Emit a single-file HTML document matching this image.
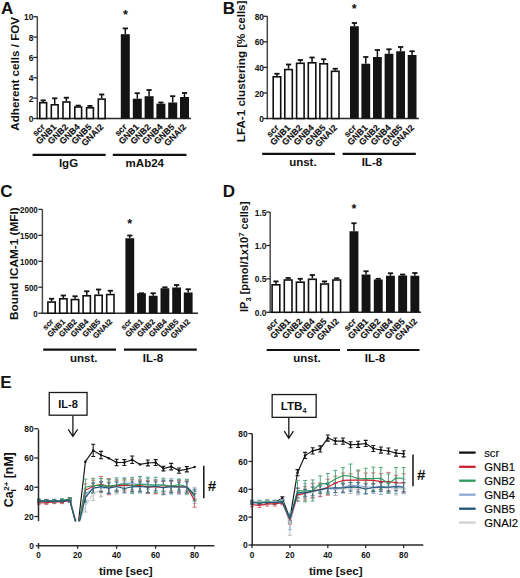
<!DOCTYPE html>
<html><head><meta charset="utf-8"><style>
html,body{margin:0;padding:0;background:#fff;}
body{width:520px;height:578px;overflow:hidden;}
svg{display:block;}
text{font-family:"Liberation Sans",sans-serif;}
.bl{stroke:#111;stroke-width:0.15px;}
</style></head><body>
<svg width="520" height="578" viewBox="0 0 520 578">
<rect width="520" height="578" fill="#fff"/>
<line x1="37.30" y1="16.50" x2="37.30" y2="119.25" stroke="#4a4a4a" stroke-width="1.5" />
<line x1="36.60" y1="118.50" x2="191.00" y2="118.50" stroke="#2a2a2a" stroke-width="1.5" />
<line x1="33.30" y1="118.50" x2="37.30" y2="118.50" stroke="#2a2a2a" stroke-width="1.3" />
<text x="0" y="0" transform="translate(33.40 122.08) scale(1 1.12)" font-size="8.4" text-anchor="end" font-weight="bold" fill="#111" >0</text>
<line x1="33.30" y1="98.14" x2="37.30" y2="98.14" stroke="#2a2a2a" stroke-width="1.3" />
<text x="0" y="0" transform="translate(33.40 101.72) scale(1 1.12)" font-size="8.4" text-anchor="end" font-weight="bold" fill="#111" >2</text>
<line x1="33.30" y1="77.78" x2="37.30" y2="77.78" stroke="#2a2a2a" stroke-width="1.3" />
<text x="0" y="0" transform="translate(33.40 81.36) scale(1 1.12)" font-size="8.4" text-anchor="end" font-weight="bold" fill="#111" >4</text>
<line x1="33.30" y1="57.42" x2="37.30" y2="57.42" stroke="#2a2a2a" stroke-width="1.3" />
<text x="0" y="0" transform="translate(33.40 61.00) scale(1 1.12)" font-size="8.4" text-anchor="end" font-weight="bold" fill="#111" >6</text>
<line x1="33.30" y1="37.06" x2="37.30" y2="37.06" stroke="#2a2a2a" stroke-width="1.3" />
<text x="0" y="0" transform="translate(33.40 40.64) scale(1 1.12)" font-size="8.4" text-anchor="end" font-weight="bold" fill="#111" >8</text>
<line x1="33.30" y1="16.70" x2="37.30" y2="16.70" stroke="#2a2a2a" stroke-width="1.3" />
<text x="0" y="0" transform="translate(33.40 20.28) scale(1 1.12)" font-size="8.4" text-anchor="end" font-weight="bold" fill="#111" >10</text>
<line x1="43.20" y1="101.90" x2="43.20" y2="100.40" stroke="#111" stroke-width="1.5" />
<line x1="40.60" y1="100.40" x2="45.80" y2="100.40" stroke="#111" stroke-width="1.8" />
<rect x="39.80" y="102.70" width="6.80" height="15.80" fill="#fff" stroke="#111" stroke-width="1.6"/>
<line x1="54.70" y1="104.00" x2="54.70" y2="98.30" stroke="#111" stroke-width="1.5" />
<line x1="52.10" y1="98.30" x2="57.30" y2="98.30" stroke="#111" stroke-width="1.8" />
<rect x="51.30" y="104.80" width="6.80" height="13.70" fill="#fff" stroke="#111" stroke-width="1.6"/>
<line x1="66.40" y1="101.20" x2="66.40" y2="97.70" stroke="#111" stroke-width="1.5" />
<line x1="63.80" y1="97.70" x2="69.00" y2="97.70" stroke="#111" stroke-width="1.8" />
<rect x="63.00" y="102.00" width="6.80" height="16.50" fill="#fff" stroke="#111" stroke-width="1.6"/>
<line x1="78.20" y1="106.20" x2="78.20" y2="105.60" stroke="#111" stroke-width="1.5" />
<line x1="75.60" y1="105.60" x2="80.80" y2="105.60" stroke="#111" stroke-width="1.8" />
<rect x="74.80" y="107.00" width="6.80" height="11.50" fill="#fff" stroke="#111" stroke-width="1.6"/>
<line x1="90.00" y1="107.00" x2="90.00" y2="105.90" stroke="#111" stroke-width="1.5" />
<line x1="87.40" y1="105.90" x2="92.60" y2="105.90" stroke="#111" stroke-width="1.8" />
<rect x="86.60" y="107.80" width="6.80" height="10.70" fill="#fff" stroke="#111" stroke-width="1.6"/>
<line x1="101.70" y1="98.30" x2="101.70" y2="94.50" stroke="#111" stroke-width="1.5" />
<line x1="99.10" y1="94.50" x2="104.30" y2="94.50" stroke="#111" stroke-width="1.8" />
<rect x="98.30" y="99.10" width="6.80" height="19.40" fill="#fff" stroke="#111" stroke-width="1.6"/>
<line x1="125.30" y1="34.20" x2="125.30" y2="28.40" stroke="#111" stroke-width="1.5" />
<line x1="122.70" y1="28.40" x2="127.90" y2="28.40" stroke="#111" stroke-width="1.8" />
<rect x="120.80" y="34.20" width="9.00" height="84.30" fill="#141414"/>
<line x1="137.30" y1="98.70" x2="137.30" y2="93.20" stroke="#111" stroke-width="1.5" />
<line x1="134.70" y1="93.20" x2="139.90" y2="93.20" stroke="#111" stroke-width="1.8" />
<rect x="132.80" y="98.70" width="9.00" height="19.80" fill="#141414"/>
<line x1="149.10" y1="96.20" x2="149.10" y2="90.00" stroke="#111" stroke-width="1.5" />
<line x1="146.50" y1="90.00" x2="151.70" y2="90.00" stroke="#111" stroke-width="1.8" />
<rect x="144.60" y="96.20" width="9.00" height="22.30" fill="#141414"/>
<line x1="160.90" y1="103.70" x2="160.90" y2="102.50" stroke="#111" stroke-width="1.5" />
<line x1="158.30" y1="102.50" x2="163.50" y2="102.50" stroke="#111" stroke-width="1.8" />
<rect x="156.40" y="103.70" width="9.00" height="14.80" fill="#141414"/>
<line x1="172.70" y1="102.50" x2="172.70" y2="96.20" stroke="#111" stroke-width="1.5" />
<line x1="170.10" y1="96.20" x2="175.30" y2="96.20" stroke="#111" stroke-width="1.8" />
<rect x="168.20" y="102.50" width="9.00" height="16.00" fill="#141414"/>
<line x1="184.50" y1="97.00" x2="184.50" y2="93.00" stroke="#111" stroke-width="1.5" />
<line x1="181.90" y1="93.00" x2="187.10" y2="93.00" stroke="#111" stroke-width="1.8" />
<rect x="180.00" y="97.00" width="9.00" height="21.50" fill="#141414"/>
<text x="45.40" y="127.50" font-size="8.8" text-anchor="end" font-weight="bold" fill="#111" transform="rotate(-45 45.40 127.50)" class="bl">scr</text>
<text x="56.90" y="127.50" font-size="8.8" text-anchor="end" font-weight="bold" fill="#111" transform="rotate(-45 56.90 127.50)" class="bl">GNB1</text>
<text x="68.60" y="127.50" font-size="8.8" text-anchor="end" font-weight="bold" fill="#111" transform="rotate(-45 68.60 127.50)" class="bl">GNB2</text>
<text x="80.40" y="127.50" font-size="8.8" text-anchor="end" font-weight="bold" fill="#111" transform="rotate(-45 80.40 127.50)" class="bl">GNB4</text>
<text x="92.20" y="127.50" font-size="8.8" text-anchor="end" font-weight="bold" fill="#111" transform="rotate(-45 92.20 127.50)" class="bl">GNB5</text>
<text x="103.90" y="127.50" font-size="8.8" text-anchor="end" font-weight="bold" fill="#111" transform="rotate(-45 103.90 127.50)" class="bl">GNAI2</text>
<text x="127.50" y="127.50" font-size="8.8" text-anchor="end" font-weight="bold" fill="#111" transform="rotate(-45 127.50 127.50)" class="bl">scr</text>
<text x="139.50" y="127.50" font-size="8.8" text-anchor="end" font-weight="bold" fill="#111" transform="rotate(-45 139.50 127.50)" class="bl">GNB1</text>
<text x="151.30" y="127.50" font-size="8.8" text-anchor="end" font-weight="bold" fill="#111" transform="rotate(-45 151.30 127.50)" class="bl">GNB2</text>
<text x="163.10" y="127.50" font-size="8.8" text-anchor="end" font-weight="bold" fill="#111" transform="rotate(-45 163.10 127.50)" class="bl">GNB4</text>
<text x="174.90" y="127.50" font-size="8.8" text-anchor="end" font-weight="bold" fill="#111" transform="rotate(-45 174.90 127.50)" class="bl">GNB5</text>
<text x="186.70" y="127.50" font-size="8.8" text-anchor="end" font-weight="bold" fill="#111" transform="rotate(-45 186.70 127.50)" class="bl">GNAI2</text>
<text x="125.40" y="19.00" font-size="12.6" text-anchor="middle" font-weight="bold" fill="#111" >*</text>
<line x1="32.60" y1="154.80" x2="105.70" y2="154.80" stroke="#111" stroke-width="2.2" />
<line x1="112.80" y1="154.80" x2="186.50" y2="154.80" stroke="#111" stroke-width="2.2" />
<text x="68.50" y="167.30" font-size="11.5" text-anchor="middle" font-weight="bold" fill="#111" >IgG</text>
<text x="144.80" y="167.30" font-size="11.5" text-anchor="middle" font-weight="bold" fill="#111" >mAb24</text>
<text x="1.00" y="13.90" font-size="17" text-anchor="start" font-weight="bold" fill="#111" >A</text>
<text x="18.90" y="73.80" font-size="11.65" text-anchor="middle" font-weight="bold" fill="#111" transform="rotate(-90 18.90 73.80)" >Adherent cells / FOV</text>
<line x1="267.30" y1="16.30" x2="267.30" y2="119.25" stroke="#4a4a4a" stroke-width="1.5" />
<line x1="266.60" y1="118.50" x2="419.00" y2="118.50" stroke="#2a2a2a" stroke-width="1.5" />
<line x1="263.30" y1="118.50" x2="267.30" y2="118.50" stroke="#2a2a2a" stroke-width="1.3" />
<text x="0" y="0" transform="translate(264.00 122.08) scale(1 1.12)" font-size="8.4" text-anchor="end" font-weight="bold" fill="#111" >0</text>
<line x1="263.30" y1="92.95" x2="267.30" y2="92.95" stroke="#2a2a2a" stroke-width="1.3" />
<text x="0" y="0" transform="translate(264.00 96.53) scale(1 1.12)" font-size="8.4" text-anchor="end" font-weight="bold" fill="#111" >20</text>
<line x1="263.30" y1="67.40" x2="267.30" y2="67.40" stroke="#2a2a2a" stroke-width="1.3" />
<text x="0" y="0" transform="translate(264.00 70.98) scale(1 1.12)" font-size="8.4" text-anchor="end" font-weight="bold" fill="#111" >40</text>
<line x1="263.30" y1="41.85" x2="267.30" y2="41.85" stroke="#2a2a2a" stroke-width="1.3" />
<text x="0" y="0" transform="translate(264.00 45.43) scale(1 1.12)" font-size="8.4" text-anchor="end" font-weight="bold" fill="#111" >60</text>
<line x1="263.30" y1="16.30" x2="267.30" y2="16.30" stroke="#2a2a2a" stroke-width="1.3" />
<text x="0" y="0" transform="translate(264.00 19.88) scale(1 1.12)" font-size="8.4" text-anchor="end" font-weight="bold" fill="#111" >80</text>
<line x1="276.95" y1="76.00" x2="276.95" y2="73.75" stroke="#111" stroke-width="1.5" />
<line x1="274.35" y1="73.75" x2="279.55" y2="73.75" stroke="#111" stroke-width="1.8" />
<rect x="273.20" y="76.80" width="7.50" height="41.70" fill="#fff" stroke="#111" stroke-width="1.6"/>
<line x1="288.55" y1="68.75" x2="288.55" y2="64.50" stroke="#111" stroke-width="1.5" />
<line x1="285.95" y1="64.50" x2="291.15" y2="64.50" stroke="#111" stroke-width="1.8" />
<rect x="284.80" y="69.55" width="7.50" height="48.95" fill="#fff" stroke="#111" stroke-width="1.6"/>
<line x1="300.35" y1="62.50" x2="300.35" y2="60.00" stroke="#111" stroke-width="1.5" />
<line x1="297.75" y1="60.00" x2="302.95" y2="60.00" stroke="#111" stroke-width="1.8" />
<rect x="296.60" y="63.30" width="7.50" height="55.20" fill="#fff" stroke="#111" stroke-width="1.6"/>
<line x1="312.05" y1="62.00" x2="312.05" y2="57.50" stroke="#111" stroke-width="1.5" />
<line x1="309.45" y1="57.50" x2="314.65" y2="57.50" stroke="#111" stroke-width="1.8" />
<rect x="308.30" y="62.80" width="7.50" height="55.70" fill="#fff" stroke="#111" stroke-width="1.6"/>
<line x1="323.65" y1="63.00" x2="323.65" y2="59.25" stroke="#111" stroke-width="1.5" />
<line x1="321.05" y1="59.25" x2="326.25" y2="59.25" stroke="#111" stroke-width="1.8" />
<rect x="319.90" y="63.80" width="7.50" height="54.70" fill="#fff" stroke="#111" stroke-width="1.6"/>
<line x1="335.25" y1="70.50" x2="335.25" y2="68.75" stroke="#111" stroke-width="1.5" />
<line x1="332.65" y1="68.75" x2="337.85" y2="68.75" stroke="#111" stroke-width="1.8" />
<rect x="331.50" y="71.30" width="7.50" height="47.20" fill="#fff" stroke="#111" stroke-width="1.6"/>
<line x1="354.40" y1="26.25" x2="354.40" y2="23.00" stroke="#111" stroke-width="1.5" />
<line x1="351.80" y1="23.00" x2="357.00" y2="23.00" stroke="#111" stroke-width="1.8" />
<rect x="350.00" y="26.25" width="8.80" height="92.25" fill="#141414"/>
<line x1="365.80" y1="63.75" x2="365.80" y2="57.00" stroke="#111" stroke-width="1.5" />
<line x1="363.20" y1="57.00" x2="368.40" y2="57.00" stroke="#111" stroke-width="1.8" />
<rect x="361.40" y="63.75" width="8.80" height="54.75" fill="#141414"/>
<line x1="377.40" y1="57.00" x2="377.40" y2="50.00" stroke="#111" stroke-width="1.5" />
<line x1="374.80" y1="50.00" x2="380.00" y2="50.00" stroke="#111" stroke-width="1.8" />
<rect x="373.00" y="57.00" width="8.80" height="61.50" fill="#141414"/>
<line x1="389.00" y1="53.75" x2="389.00" y2="49.25" stroke="#111" stroke-width="1.5" />
<line x1="386.40" y1="49.25" x2="391.60" y2="49.25" stroke="#111" stroke-width="1.8" />
<rect x="384.60" y="53.75" width="8.80" height="64.75" fill="#141414"/>
<line x1="400.60" y1="51.25" x2="400.60" y2="47.00" stroke="#111" stroke-width="1.5" />
<line x1="398.00" y1="47.00" x2="403.20" y2="47.00" stroke="#111" stroke-width="1.8" />
<rect x="396.20" y="51.25" width="8.80" height="67.25" fill="#141414"/>
<line x1="412.10" y1="55.00" x2="412.10" y2="51.25" stroke="#111" stroke-width="1.5" />
<line x1="409.50" y1="51.25" x2="414.70" y2="51.25" stroke="#111" stroke-width="1.8" />
<rect x="407.70" y="55.00" width="8.80" height="63.50" fill="#141414"/>
<text x="279.45" y="128.40" font-size="8.8" text-anchor="end" font-weight="bold" fill="#111" transform="rotate(-45 279.45 128.40)" class="bl">scr</text>
<text x="291.05" y="128.40" font-size="8.8" text-anchor="end" font-weight="bold" fill="#111" transform="rotate(-45 291.05 128.40)" class="bl">GNB1</text>
<text x="302.85" y="128.40" font-size="8.8" text-anchor="end" font-weight="bold" fill="#111" transform="rotate(-45 302.85 128.40)" class="bl">GNB2</text>
<text x="314.55" y="128.40" font-size="8.8" text-anchor="end" font-weight="bold" fill="#111" transform="rotate(-45 314.55 128.40)" class="bl">GNB4</text>
<text x="326.15" y="128.40" font-size="8.8" text-anchor="end" font-weight="bold" fill="#111" transform="rotate(-45 326.15 128.40)" class="bl">GNB5</text>
<text x="337.75" y="128.40" font-size="8.8" text-anchor="end" font-weight="bold" fill="#111" transform="rotate(-45 337.75 128.40)" class="bl">GNAI2</text>
<text x="356.90" y="128.40" font-size="8.8" text-anchor="end" font-weight="bold" fill="#111" transform="rotate(-45 356.90 128.40)" class="bl">scr</text>
<text x="368.30" y="128.40" font-size="8.8" text-anchor="end" font-weight="bold" fill="#111" transform="rotate(-45 368.30 128.40)" class="bl">GNB1</text>
<text x="379.90" y="128.40" font-size="8.8" text-anchor="end" font-weight="bold" fill="#111" transform="rotate(-45 379.90 128.40)" class="bl">GNB2</text>
<text x="391.50" y="128.40" font-size="8.8" text-anchor="end" font-weight="bold" fill="#111" transform="rotate(-45 391.50 128.40)" class="bl">GNB4</text>
<text x="403.10" y="128.40" font-size="8.8" text-anchor="end" font-weight="bold" fill="#111" transform="rotate(-45 403.10 128.40)" class="bl">GNB5</text>
<text x="414.60" y="128.40" font-size="8.8" text-anchor="end" font-weight="bold" fill="#111" transform="rotate(-45 414.60 128.40)" class="bl">GNAI2</text>
<text x="354.20" y="13.10" font-size="12.6" text-anchor="middle" font-weight="bold" fill="#111" >*</text>
<line x1="262.20" y1="153.80" x2="335.00" y2="153.80" stroke="#111" stroke-width="2.2" />
<line x1="342.60" y1="153.80" x2="415.80" y2="153.80" stroke="#111" stroke-width="2.2" />
<text x="302.90" y="165.50" font-size="11.5" text-anchor="middle" font-weight="bold" fill="#111" >unst.</text>
<text x="371.90" y="165.50" font-size="11.5" text-anchor="middle" font-weight="bold" fill="#111" >IL-8</text>
<text x="222.80" y="13.85" font-size="17" text-anchor="start" font-weight="bold" fill="#111" >B</text>
<text x="244.90" y="71.35" font-size="11.65" text-anchor="middle" font-weight="bold" fill="#111" transform="rotate(-90 244.90 71.35)" >LFA-1 clustering [% cells]</text>
<line x1="42.40" y1="209.50" x2="42.40" y2="313.95" stroke="#4a4a4a" stroke-width="1.5" />
<line x1="41.70" y1="313.20" x2="198.00" y2="313.20" stroke="#2a2a2a" stroke-width="1.5" />
<line x1="38.40" y1="313.20" x2="42.40" y2="313.20" stroke="#2a2a2a" stroke-width="1.3" />
<text x="0" y="0" transform="translate(37.80 316.78) scale(1 1.12)" font-size="8.0" text-anchor="end" font-weight="bold" fill="#111" >0</text>
<line x1="38.40" y1="287.25" x2="42.40" y2="287.25" stroke="#2a2a2a" stroke-width="1.3" />
<text x="0" y="0" transform="translate(37.80 290.83) scale(1 1.12)" font-size="8.0" text-anchor="end" font-weight="bold" fill="#111" >500</text>
<line x1="38.40" y1="261.30" x2="42.40" y2="261.30" stroke="#2a2a2a" stroke-width="1.3" />
<text x="0" y="0" transform="translate(37.80 264.88) scale(1 1.12)" font-size="8.0" text-anchor="end" font-weight="bold" fill="#111" >1000</text>
<line x1="38.40" y1="235.35" x2="42.40" y2="235.35" stroke="#2a2a2a" stroke-width="1.3" />
<text x="0" y="0" transform="translate(37.80 238.93) scale(1 1.12)" font-size="8.0" text-anchor="end" font-weight="bold" fill="#111" >1500</text>
<line x1="38.40" y1="209.40" x2="42.40" y2="209.40" stroke="#2a2a2a" stroke-width="1.3" />
<text x="0" y="0" transform="translate(37.80 212.98) scale(1 1.12)" font-size="8.0" text-anchor="end" font-weight="bold" fill="#111" >2000</text>
<line x1="51.55" y1="301.25" x2="51.55" y2="298.75" stroke="#111" stroke-width="1.5" />
<line x1="48.95" y1="298.75" x2="54.15" y2="298.75" stroke="#111" stroke-width="1.8" />
<rect x="47.90" y="302.05" width="7.30" height="11.15" fill="#fff" stroke="#111" stroke-width="1.6"/>
<line x1="63.35" y1="298.00" x2="63.35" y2="295.50" stroke="#111" stroke-width="1.5" />
<line x1="60.75" y1="295.50" x2="65.95" y2="295.50" stroke="#111" stroke-width="1.8" />
<rect x="59.70" y="298.80" width="7.30" height="14.40" fill="#fff" stroke="#111" stroke-width="1.6"/>
<line x1="75.05" y1="298.75" x2="75.05" y2="296.25" stroke="#111" stroke-width="1.5" />
<line x1="72.45" y1="296.25" x2="77.65" y2="296.25" stroke="#111" stroke-width="1.8" />
<rect x="71.40" y="299.55" width="7.30" height="13.65" fill="#fff" stroke="#111" stroke-width="1.6"/>
<line x1="86.75" y1="295.00" x2="86.75" y2="291.25" stroke="#111" stroke-width="1.5" />
<line x1="84.15" y1="291.25" x2="89.35" y2="291.25" stroke="#111" stroke-width="1.8" />
<rect x="83.10" y="295.80" width="7.30" height="17.40" fill="#fff" stroke="#111" stroke-width="1.6"/>
<line x1="98.55" y1="294.50" x2="98.55" y2="289.50" stroke="#111" stroke-width="1.5" />
<line x1="95.95" y1="289.50" x2="101.15" y2="289.50" stroke="#111" stroke-width="1.8" />
<rect x="94.90" y="295.30" width="7.30" height="17.90" fill="#fff" stroke="#111" stroke-width="1.6"/>
<line x1="110.35" y1="293.75" x2="110.35" y2="290.75" stroke="#111" stroke-width="1.5" />
<line x1="107.75" y1="290.75" x2="112.95" y2="290.75" stroke="#111" stroke-width="1.8" />
<rect x="106.70" y="294.55" width="7.30" height="18.65" fill="#fff" stroke="#111" stroke-width="1.6"/>
<line x1="129.80" y1="238.25" x2="129.80" y2="235.50" stroke="#111" stroke-width="1.5" />
<line x1="127.20" y1="235.50" x2="132.40" y2="235.50" stroke="#111" stroke-width="1.8" />
<rect x="125.40" y="238.25" width="8.80" height="74.95" fill="#141414"/>
<line x1="141.50" y1="293.25" x2="141.50" y2="293.25" stroke="#111" stroke-width="1.5" />
<line x1="138.90" y1="293.25" x2="144.10" y2="293.25" stroke="#111" stroke-width="1.8" />
<rect x="137.10" y="293.25" width="8.80" height="19.95" fill="#141414"/>
<line x1="153.20" y1="295.75" x2="153.20" y2="293.25" stroke="#111" stroke-width="1.5" />
<line x1="150.60" y1="293.25" x2="155.80" y2="293.25" stroke="#111" stroke-width="1.8" />
<rect x="148.80" y="295.75" width="8.80" height="17.45" fill="#141414"/>
<line x1="164.90" y1="288.25" x2="164.90" y2="287.30" stroke="#111" stroke-width="1.5" />
<line x1="162.30" y1="287.30" x2="167.50" y2="287.30" stroke="#111" stroke-width="1.8" />
<rect x="160.50" y="288.25" width="8.80" height="24.95" fill="#141414"/>
<line x1="176.60" y1="287.50" x2="176.60" y2="285.00" stroke="#111" stroke-width="1.5" />
<line x1="174.00" y1="285.00" x2="179.20" y2="285.00" stroke="#111" stroke-width="1.8" />
<rect x="172.20" y="287.50" width="8.80" height="25.70" fill="#141414"/>
<line x1="188.20" y1="292.50" x2="188.20" y2="289.25" stroke="#111" stroke-width="1.5" />
<line x1="185.60" y1="289.25" x2="190.80" y2="289.25" stroke="#111" stroke-width="1.8" />
<rect x="183.80" y="292.50" width="8.80" height="20.70" fill="#141414"/>
<text x="53.95" y="322.10" font-size="7.8" text-anchor="end" font-weight="bold" fill="#111" transform="rotate(-45 53.95 322.10)" class="bl">scr</text>
<text x="65.75" y="322.10" font-size="7.8" text-anchor="end" font-weight="bold" fill="#111" transform="rotate(-45 65.75 322.10)" class="bl">GNB1</text>
<text x="77.45" y="322.10" font-size="7.8" text-anchor="end" font-weight="bold" fill="#111" transform="rotate(-45 77.45 322.10)" class="bl">GNB2</text>
<text x="89.15" y="322.10" font-size="7.8" text-anchor="end" font-weight="bold" fill="#111" transform="rotate(-45 89.15 322.10)" class="bl">GNB4</text>
<text x="100.95" y="322.10" font-size="7.8" text-anchor="end" font-weight="bold" fill="#111" transform="rotate(-45 100.95 322.10)" class="bl">GNB5</text>
<text x="112.75" y="322.10" font-size="7.8" text-anchor="end" font-weight="bold" fill="#111" transform="rotate(-45 112.75 322.10)" class="bl">GNAI2</text>
<text x="132.20" y="322.10" font-size="7.8" text-anchor="end" font-weight="bold" fill="#111" transform="rotate(-45 132.20 322.10)" class="bl">scr</text>
<text x="143.90" y="322.10" font-size="7.8" text-anchor="end" font-weight="bold" fill="#111" transform="rotate(-45 143.90 322.10)" class="bl">GNB1</text>
<text x="155.60" y="322.10" font-size="7.8" text-anchor="end" font-weight="bold" fill="#111" transform="rotate(-45 155.60 322.10)" class="bl">GNB2</text>
<text x="167.30" y="322.10" font-size="7.8" text-anchor="end" font-weight="bold" fill="#111" transform="rotate(-45 167.30 322.10)" class="bl">GNB4</text>
<text x="179.00" y="322.10" font-size="7.8" text-anchor="end" font-weight="bold" fill="#111" transform="rotate(-45 179.00 322.10)" class="bl">GNB5</text>
<text x="190.60" y="322.10" font-size="7.8" text-anchor="end" font-weight="bold" fill="#111" transform="rotate(-45 190.60 322.10)" class="bl">GNAI2</text>
<text x="129.80" y="228.20" font-size="12.6" text-anchor="middle" font-weight="bold" fill="#111" >*</text>
<line x1="43.20" y1="349.70" x2="116.00" y2="349.70" stroke="#111" stroke-width="2.2" />
<line x1="123.90" y1="349.70" x2="196.80" y2="349.70" stroke="#111" stroke-width="2.2" />
<text x="83.70" y="361.80" font-size="11.5" text-anchor="middle" font-weight="bold" fill="#111" >unst.</text>
<text x="153.00" y="361.80" font-size="11.5" text-anchor="middle" font-weight="bold" fill="#111" >IL-8</text>
<text x="0.30" y="196.50" font-size="17" text-anchor="start" font-weight="bold" fill="#111" >C</text>
<text x="17.90" y="263.60" font-size="11.8" text-anchor="middle" font-weight="bold" fill="#111" transform="rotate(-90 17.90 263.60)" >Bound ICAM-1 (MFI)</text>
<line x1="270.20" y1="212.00" x2="270.20" y2="313.05" stroke="#4a4a4a" stroke-width="1.5" />
<line x1="269.50" y1="312.30" x2="421.00" y2="312.30" stroke="#2a2a2a" stroke-width="1.5" />
<line x1="266.20" y1="312.30" x2="270.20" y2="312.30" stroke="#2a2a2a" stroke-width="1.3" />
<text x="0" y="0" transform="translate(266.50 315.88) scale(1 1.12)" font-size="8.4" text-anchor="end" font-weight="bold" fill="#111" >0.0</text>
<line x1="266.20" y1="278.90" x2="270.20" y2="278.90" stroke="#2a2a2a" stroke-width="1.3" />
<text x="0" y="0" transform="translate(266.50 282.48) scale(1 1.12)" font-size="8.4" text-anchor="end" font-weight="bold" fill="#111" >0.5</text>
<line x1="266.20" y1="245.50" x2="270.20" y2="245.50" stroke="#2a2a2a" stroke-width="1.3" />
<text x="0" y="0" transform="translate(266.50 249.08) scale(1 1.12)" font-size="8.4" text-anchor="end" font-weight="bold" fill="#111" >1.0</text>
<line x1="266.20" y1="212.10" x2="270.20" y2="212.10" stroke="#2a2a2a" stroke-width="1.3" />
<text x="0" y="0" transform="translate(266.50 215.68) scale(1 1.12)" font-size="8.4" text-anchor="end" font-weight="bold" fill="#111" >1.5</text>
<line x1="275.95" y1="284.00" x2="275.95" y2="281.40" stroke="#111" stroke-width="1.5" />
<line x1="273.35" y1="281.40" x2="278.55" y2="281.40" stroke="#111" stroke-width="1.8" />
<rect x="272.10" y="284.80" width="7.70" height="27.50" fill="#fff" stroke="#111" stroke-width="1.6"/>
<line x1="288.15" y1="279.20" x2="288.15" y2="278.00" stroke="#111" stroke-width="1.5" />
<line x1="285.55" y1="278.00" x2="290.75" y2="278.00" stroke="#111" stroke-width="1.8" />
<rect x="284.30" y="280.00" width="7.70" height="32.30" fill="#fff" stroke="#111" stroke-width="1.6"/>
<line x1="300.25" y1="281.40" x2="300.25" y2="278.80" stroke="#111" stroke-width="1.5" />
<line x1="297.65" y1="278.80" x2="302.85" y2="278.80" stroke="#111" stroke-width="1.8" />
<rect x="296.40" y="282.20" width="7.70" height="30.10" fill="#fff" stroke="#111" stroke-width="1.6"/>
<line x1="312.35" y1="278.50" x2="312.35" y2="275.00" stroke="#111" stroke-width="1.5" />
<line x1="309.75" y1="275.00" x2="314.95" y2="275.00" stroke="#111" stroke-width="1.8" />
<rect x="308.50" y="279.30" width="7.70" height="33.00" fill="#fff" stroke="#111" stroke-width="1.6"/>
<line x1="324.55" y1="283.20" x2="324.55" y2="281.40" stroke="#111" stroke-width="1.5" />
<line x1="321.95" y1="281.40" x2="327.15" y2="281.40" stroke="#111" stroke-width="1.8" />
<rect x="320.70" y="284.00" width="7.70" height="28.30" fill="#fff" stroke="#111" stroke-width="1.6"/>
<line x1="336.75" y1="279.20" x2="336.75" y2="278.30" stroke="#111" stroke-width="1.5" />
<line x1="334.15" y1="278.30" x2="339.35" y2="278.30" stroke="#111" stroke-width="1.8" />
<rect x="332.90" y="280.00" width="7.70" height="32.30" fill="#fff" stroke="#111" stroke-width="1.6"/>
<line x1="353.95" y1="231.25" x2="353.95" y2="223.25" stroke="#111" stroke-width="1.5" />
<line x1="351.35" y1="223.25" x2="356.55" y2="223.25" stroke="#111" stroke-width="1.8" />
<rect x="349.50" y="231.25" width="8.90" height="81.05" fill="#141414"/>
<line x1="366.05" y1="274.50" x2="366.05" y2="271.25" stroke="#111" stroke-width="1.5" />
<line x1="363.45" y1="271.25" x2="368.65" y2="271.25" stroke="#111" stroke-width="1.8" />
<rect x="361.60" y="274.50" width="8.90" height="37.80" fill="#141414"/>
<line x1="378.25" y1="279.50" x2="378.25" y2="278.80" stroke="#111" stroke-width="1.5" />
<line x1="375.65" y1="278.80" x2="380.85" y2="278.80" stroke="#111" stroke-width="1.8" />
<rect x="373.80" y="279.50" width="8.90" height="32.80" fill="#141414"/>
<line x1="390.45" y1="275.75" x2="390.45" y2="273.25" stroke="#111" stroke-width="1.5" />
<line x1="387.85" y1="273.25" x2="393.05" y2="273.25" stroke="#111" stroke-width="1.8" />
<rect x="386.00" y="275.75" width="8.90" height="36.55" fill="#141414"/>
<line x1="402.65" y1="275.50" x2="402.65" y2="274.50" stroke="#111" stroke-width="1.5" />
<line x1="400.05" y1="274.50" x2="405.25" y2="274.50" stroke="#111" stroke-width="1.8" />
<rect x="398.20" y="275.50" width="8.90" height="36.80" fill="#141414"/>
<line x1="414.85" y1="275.75" x2="414.85" y2="273.00" stroke="#111" stroke-width="1.5" />
<line x1="412.25" y1="273.00" x2="417.45" y2="273.00" stroke="#111" stroke-width="1.8" />
<rect x="410.40" y="275.75" width="8.90" height="36.55" fill="#141414"/>
<text x="278.75" y="322.10" font-size="8.8" text-anchor="end" font-weight="bold" fill="#111" transform="rotate(-45 278.75 322.10)" class="bl">scr</text>
<text x="290.95" y="322.10" font-size="8.8" text-anchor="end" font-weight="bold" fill="#111" transform="rotate(-45 290.95 322.10)" class="bl">GNB1</text>
<text x="303.05" y="322.10" font-size="8.8" text-anchor="end" font-weight="bold" fill="#111" transform="rotate(-45 303.05 322.10)" class="bl">GNB2</text>
<text x="315.15" y="322.10" font-size="8.8" text-anchor="end" font-weight="bold" fill="#111" transform="rotate(-45 315.15 322.10)" class="bl">GNB4</text>
<text x="327.35" y="322.10" font-size="8.8" text-anchor="end" font-weight="bold" fill="#111" transform="rotate(-45 327.35 322.10)" class="bl">GNB5</text>
<text x="339.55" y="322.10" font-size="8.8" text-anchor="end" font-weight="bold" fill="#111" transform="rotate(-45 339.55 322.10)" class="bl">GNAI2</text>
<text x="356.75" y="322.10" font-size="8.8" text-anchor="end" font-weight="bold" fill="#111" transform="rotate(-45 356.75 322.10)" class="bl">scr</text>
<text x="368.85" y="322.10" font-size="8.8" text-anchor="end" font-weight="bold" fill="#111" transform="rotate(-45 368.85 322.10)" class="bl">GNB1</text>
<text x="381.05" y="322.10" font-size="8.8" text-anchor="end" font-weight="bold" fill="#111" transform="rotate(-45 381.05 322.10)" class="bl">GNB2</text>
<text x="393.25" y="322.10" font-size="8.8" text-anchor="end" font-weight="bold" fill="#111" transform="rotate(-45 393.25 322.10)" class="bl">GNB4</text>
<text x="405.45" y="322.10" font-size="8.8" text-anchor="end" font-weight="bold" fill="#111" transform="rotate(-45 405.45 322.10)" class="bl">GNB5</text>
<text x="417.65" y="322.10" font-size="8.8" text-anchor="end" font-weight="bold" fill="#111" transform="rotate(-45 417.65 322.10)" class="bl">GNAI2</text>
<text x="354.00" y="212.60" font-size="12.6" text-anchor="middle" font-weight="bold" fill="#111" >*</text>
<line x1="266.60" y1="350.00" x2="340.00" y2="350.00" stroke="#111" stroke-width="2.2" />
<line x1="347.00" y1="350.00" x2="419.50" y2="350.00" stroke="#111" stroke-width="2.2" />
<text x="307.00" y="362.20" font-size="11.5" text-anchor="middle" font-weight="bold" fill="#111" >unst.</text>
<text x="375.00" y="362.20" font-size="11.5" text-anchor="middle" font-weight="bold" fill="#111" >IL-8</text>
<text x="222.70" y="196.70" font-size="17" text-anchor="start" font-weight="bold" fill="#111" >D</text>
<text x="247.80" y="256.70" font-size="11.0" text-anchor="middle" font-weight="bold" fill="#111" transform="rotate(-90 247.80 256.70)" >IP<tspan font-size="7.6" dy="2.8">3</tspan><tspan dy="-2.8"> [pmol/1x10</tspan><tspan font-size="7.6" dy="-4.0">7</tspan><tspan dy="4.0"> cells]</tspan></text>
<clipPath id="cl"><rect x="37" y="415" width="180" height="106.2"/></clipPath><g clip-path="url(#cl)">
<path d="M38.60 499.97V502.31M36.60 499.97h4.0M36.60 502.31h4.0" stroke="#141414" stroke-width="1.1" fill="none"/>
<path d="M46.40 499.97V502.31M44.40 499.97h4.0M44.40 502.31h4.0" stroke="#141414" stroke-width="1.1" fill="none"/>
<path d="M54.20 499.97V502.31M52.20 499.97h4.0M52.20 502.31h4.0" stroke="#141414" stroke-width="1.1" fill="none"/>
<path d="M62.00 499.54V501.88M60.00 499.54h4.0M60.00 501.88h4.0" stroke="#141414" stroke-width="1.1" fill="none"/>
<path d="M69.80 497.78V500.12M67.80 497.78h4.0M67.80 500.12h4.0" stroke="#141414" stroke-width="1.1" fill="none"/>
<path d="M77.60 528.20V531.12M75.60 528.20h4.0M75.60 531.12h4.0" stroke="#141414" stroke-width="1.1" fill="none"/>
<path d="M93.20 444.25V456.54M91.20 444.25h4.0M91.20 456.54h4.0" stroke="#141414" stroke-width="1.1" fill="none"/>
<path d="M101.00 451.42V458.73M99.00 451.42h4.0M99.00 458.73h4.0" stroke="#141414" stroke-width="1.1" fill="none"/>
<path d="M116.60 459.32V465.75M114.60 459.32h4.0M114.60 465.75h4.0" stroke="#141414" stroke-width="1.1" fill="none"/>
<path d="M124.40 459.61V465.46M122.40 459.61h4.0M122.40 465.46h4.0" stroke="#141414" stroke-width="1.1" fill="none"/>
<path d="M132.20 455.95V463.56M130.20 455.95h4.0M130.20 463.56h4.0" stroke="#141414" stroke-width="1.1" fill="none"/>
<path d="M147.80 460.05V465.90M145.80 460.05h4.0M145.80 465.90h4.0" stroke="#141414" stroke-width="1.1" fill="none"/>
<path d="M155.60 459.61V465.46M153.60 459.61h4.0M153.60 465.46h4.0" stroke="#141414" stroke-width="1.1" fill="none"/>
<path d="M163.40 466.19V470.87M161.40 466.19h4.0M161.40 470.87h4.0" stroke="#141414" stroke-width="1.1" fill="none"/>
<path d="M171.20 463.41V469.85M169.20 463.41h4.0M169.20 469.85h4.0" stroke="#141414" stroke-width="1.1" fill="none"/>
<path d="M179.00 467.94V473.21M177.00 467.94h4.0M177.00 473.21h4.0" stroke="#141414" stroke-width="1.1" fill="none"/>
<path d="M186.80 466.63V471.89M184.80 466.63h4.0M184.80 471.89h4.0" stroke="#141414" stroke-width="1.1" fill="none"/>
<polyline points="38.60,501.14 46.40,501.14 54.20,501.14 62.00,500.70 69.80,498.95 77.60,529.66 85.40,461.66 93.20,450.39 101.00,455.07 108.80,458.15 116.60,462.53 124.40,462.53 132.20,459.75 140.00,464.44 147.80,462.97 155.60,462.53 163.40,468.53 171.20,466.63 179.00,470.58 186.80,469.26 194.60,467.07" fill="none" stroke="#141414" stroke-width="1.15" stroke-linejoin="round"/>
<circle cx="38.60" cy="501.14" r="1.25" fill="#141414"/>
<circle cx="46.40" cy="501.14" r="1.25" fill="#141414"/>
<circle cx="54.20" cy="501.14" r="1.25" fill="#141414"/>
<circle cx="62.00" cy="500.70" r="1.25" fill="#141414"/>
<circle cx="69.80" cy="498.95" r="1.25" fill="#141414"/>
<circle cx="77.60" cy="529.66" r="1.25" fill="#141414"/>
<circle cx="85.40" cy="461.66" r="1.25" fill="#141414"/>
<circle cx="93.20" cy="450.39" r="1.25" fill="#141414"/>
<circle cx="101.00" cy="455.07" r="1.25" fill="#141414"/>
<circle cx="108.80" cy="458.15" r="1.25" fill="#141414"/>
<circle cx="116.60" cy="462.53" r="1.25" fill="#141414"/>
<circle cx="124.40" cy="462.53" r="1.25" fill="#141414"/>
<circle cx="132.20" cy="459.75" r="1.25" fill="#141414"/>
<circle cx="140.00" cy="464.44" r="1.25" fill="#141414"/>
<circle cx="147.80" cy="462.97" r="1.25" fill="#141414"/>
<circle cx="155.60" cy="462.53" r="1.25" fill="#141414"/>
<circle cx="163.40" cy="468.53" r="1.25" fill="#141414"/>
<circle cx="171.20" cy="466.63" r="1.25" fill="#141414"/>
<circle cx="179.00" cy="470.58" r="1.25" fill="#141414"/>
<circle cx="186.80" cy="469.26" r="1.25" fill="#141414"/>
<circle cx="194.60" cy="467.07" r="1.25" fill="#141414"/>
<path d="M38.60 500.41V503.34M36.60 500.41h4.0M36.60 503.34h4.0" stroke="#b8b8b8" stroke-width="1.0" fill="none"/>
<path d="M46.40 500.41V503.34M44.40 500.41h4.0M44.40 503.34h4.0" stroke="#b8b8b8" stroke-width="1.0" fill="none"/>
<path d="M54.20 500.41V503.34M52.20 500.41h4.0M52.20 503.34h4.0" stroke="#b8b8b8" stroke-width="1.0" fill="none"/>
<path d="M62.00 499.68V502.61M60.00 499.68h4.0M60.00 502.61h4.0" stroke="#b8b8b8" stroke-width="1.0" fill="none"/>
<path d="M69.80 498.95V501.88M67.80 498.95h4.0M67.80 501.88h4.0" stroke="#b8b8b8" stroke-width="1.0" fill="none"/>
<path d="M77.60 522.35V528.20M75.60 522.35h4.0M75.60 528.20h4.0" stroke="#b8b8b8" stroke-width="1.0" fill="none"/>
<path d="M85.40 500.54V511.98M83.40 500.54h4.0M83.40 511.98h4.0" stroke="#b8b8b8" stroke-width="1.0" fill="none"/>
<path d="M93.20 486.72V500.41M91.20 486.72h4.0M91.20 500.41h4.0" stroke="#b8b8b8" stroke-width="1.0" fill="none"/>
<path d="M101.00 482.48V496.78M99.00 482.48h4.0M99.00 496.78h4.0" stroke="#b8b8b8" stroke-width="1.0" fill="none"/>
<path d="M108.80 481.08V492.63M106.80 481.08h4.0M106.80 492.63h4.0" stroke="#b8b8b8" stroke-width="1.0" fill="none"/>
<path d="M116.60 481.31V493.97M114.60 481.31h4.0M114.60 493.97h4.0" stroke="#b8b8b8" stroke-width="1.0" fill="none"/>
<path d="M124.40 481.13V490.26M122.40 481.13h4.0M122.40 490.26h4.0" stroke="#b8b8b8" stroke-width="1.0" fill="none"/>
<path d="M132.20 479.70V492.58M130.20 479.70h4.0M130.20 492.58h4.0" stroke="#b8b8b8" stroke-width="1.0" fill="none"/>
<path d="M140.00 480.67V493.23M138.00 480.67h4.0M138.00 493.23h4.0" stroke="#b8b8b8" stroke-width="1.0" fill="none"/>
<path d="M147.80 478.48V493.06M145.80 478.48h4.0M145.80 493.06h4.0" stroke="#b8b8b8" stroke-width="1.0" fill="none"/>
<path d="M155.60 480.21V493.80M153.60 480.21h4.0M153.60 493.80h4.0" stroke="#b8b8b8" stroke-width="1.0" fill="none"/>
<path d="M163.40 480.74V491.18M161.40 480.74h4.0M161.40 491.18h4.0" stroke="#b8b8b8" stroke-width="1.0" fill="none"/>
<path d="M171.20 481.40V492.44M169.20 481.40h4.0M169.20 492.44h4.0" stroke="#b8b8b8" stroke-width="1.0" fill="none"/>
<path d="M179.00 480.52V493.21M177.00 480.52h4.0M177.00 493.21h4.0" stroke="#b8b8b8" stroke-width="1.0" fill="none"/>
<path d="M186.80 481.53V490.44M184.80 481.53h4.0M184.80 490.44h4.0" stroke="#b8b8b8" stroke-width="1.0" fill="none"/>
<path d="M194.60 487.36V498.84M192.60 487.36h4.0M192.60 498.84h4.0" stroke="#b8b8b8" stroke-width="1.0" fill="none"/>
<path d="M38.60 500.12V503.63M36.60 500.12h4.0M36.60 503.63h4.0" stroke="#9cb4da" stroke-width="1.0" fill="none"/>
<path d="M46.40 500.12V503.63M44.40 500.12h4.0M44.40 503.63h4.0" stroke="#9cb4da" stroke-width="1.0" fill="none"/>
<path d="M54.20 499.39V502.90M52.20 499.39h4.0M52.20 502.90h4.0" stroke="#9cb4da" stroke-width="1.0" fill="none"/>
<path d="M62.00 499.39V502.90M60.00 499.39h4.0M60.00 502.90h4.0" stroke="#9cb4da" stroke-width="1.0" fill="none"/>
<path d="M69.80 498.66V502.17M67.80 498.66h4.0M67.80 502.17h4.0" stroke="#9cb4da" stroke-width="1.0" fill="none"/>
<path d="M77.60 523.81V529.66M75.60 523.81h4.0M75.60 529.66h4.0" stroke="#9cb4da" stroke-width="1.0" fill="none"/>
<path d="M85.40 489.07V500.05M83.40 489.07h4.0M83.40 500.05h4.0" stroke="#9cb4da" stroke-width="1.0" fill="none"/>
<path d="M93.20 482.53V493.17M91.20 482.53h4.0M91.20 493.17h4.0" stroke="#9cb4da" stroke-width="1.0" fill="none"/>
<path d="M101.00 482.38V492.64M99.00 482.38h4.0M99.00 492.64h4.0" stroke="#9cb4da" stroke-width="1.0" fill="none"/>
<path d="M108.80 479.05V493.98M106.80 479.05h4.0M106.80 493.98h4.0" stroke="#9cb4da" stroke-width="1.0" fill="none"/>
<path d="M116.60 479.36V490.08M114.60 479.36h4.0M114.60 490.08h4.0" stroke="#9cb4da" stroke-width="1.0" fill="none"/>
<path d="M124.40 477.40V488.90M122.40 477.40h4.0M122.40 488.90h4.0" stroke="#9cb4da" stroke-width="1.0" fill="none"/>
<path d="M132.20 477.17V489.61M130.20 477.17h4.0M130.20 489.61h4.0" stroke="#9cb4da" stroke-width="1.0" fill="none"/>
<path d="M140.00 476.79V492.40M138.00 476.79h4.0M138.00 492.40h4.0" stroke="#9cb4da" stroke-width="1.0" fill="none"/>
<path d="M147.80 478.60V489.00M145.80 478.60h4.0M145.80 489.00h4.0" stroke="#9cb4da" stroke-width="1.0" fill="none"/>
<path d="M155.60 479.84V492.66M153.60 479.84h4.0M153.60 492.66h4.0" stroke="#9cb4da" stroke-width="1.0" fill="none"/>
<path d="M163.40 478.10V491.59M161.40 478.10h4.0M161.40 491.59h4.0" stroke="#9cb4da" stroke-width="1.0" fill="none"/>
<path d="M171.20 478.50V494.18M169.20 478.50h4.0M169.20 494.18h4.0" stroke="#9cb4da" stroke-width="1.0" fill="none"/>
<path d="M179.00 479.09V494.36M177.00 479.09h4.0M177.00 494.36h4.0" stroke="#9cb4da" stroke-width="1.0" fill="none"/>
<path d="M186.80 479.01V494.57M184.80 479.01h4.0M184.80 494.57h4.0" stroke="#9cb4da" stroke-width="1.0" fill="none"/>
<path d="M194.60 491.64V503.34M192.60 491.64h4.0M192.60 503.34h4.0" stroke="#9cb4da" stroke-width="1.0" fill="none"/>
<path d="M38.60 501.14V504.65M36.60 501.14h4.0M36.60 504.65h4.0" stroke="#d86670" stroke-width="1.0" fill="none"/>
<path d="M46.40 500.85V504.36M44.40 500.85h4.0M44.40 504.36h4.0" stroke="#d86670" stroke-width="1.0" fill="none"/>
<path d="M54.20 500.12V503.63M52.20 500.12h4.0M52.20 503.63h4.0" stroke="#d86670" stroke-width="1.0" fill="none"/>
<path d="M62.00 500.12V503.63M60.00 500.12h4.0M60.00 503.63h4.0" stroke="#d86670" stroke-width="1.0" fill="none"/>
<path d="M69.80 498.66V502.17M67.80 498.66h4.0M67.80 502.17h4.0" stroke="#d86670" stroke-width="1.0" fill="none"/>
<path d="M77.60 525.27V531.12M75.60 525.27h4.0M75.60 531.12h4.0" stroke="#d86670" stroke-width="1.0" fill="none"/>
<path d="M85.40 483.87V496.48M83.40 483.87h4.0M83.40 496.48h4.0" stroke="#d86670" stroke-width="1.0" fill="none"/>
<path d="M93.20 480.18V492.41M91.20 480.18h4.0M91.20 492.41h4.0" stroke="#d86670" stroke-width="1.0" fill="none"/>
<path d="M101.00 476.38V492.07M99.00 476.38h4.0M99.00 492.07h4.0" stroke="#d86670" stroke-width="1.0" fill="none"/>
<path d="M108.80 478.54V494.72M106.80 478.54h4.0M106.80 494.72h4.0" stroke="#d86670" stroke-width="1.0" fill="none"/>
<path d="M116.60 480.14V491.01M114.60 480.14h4.0M114.60 491.01h4.0" stroke="#d86670" stroke-width="1.0" fill="none"/>
<path d="M124.40 479.91V490.94M122.40 479.91h4.0M122.40 490.94h4.0" stroke="#d86670" stroke-width="1.0" fill="none"/>
<path d="M132.20 479.69V491.09M130.20 479.69h4.0M130.20 491.09h4.0" stroke="#d86670" stroke-width="1.0" fill="none"/>
<path d="M140.00 479.96V491.37M138.00 479.96h4.0M138.00 491.37h4.0" stroke="#d86670" stroke-width="1.0" fill="none"/>
<path d="M147.80 480.41V493.47M145.80 480.41h4.0M145.80 493.47h4.0" stroke="#d86670" stroke-width="1.0" fill="none"/>
<path d="M155.60 480.07V493.82M153.60 480.07h4.0M153.60 493.82h4.0" stroke="#d86670" stroke-width="1.0" fill="none"/>
<path d="M163.40 481.49V493.09M161.40 481.49h4.0M161.40 493.09h4.0" stroke="#d86670" stroke-width="1.0" fill="none"/>
<path d="M171.20 481.09V490.99M169.20 481.09h4.0M169.20 490.99h4.0" stroke="#d86670" stroke-width="1.0" fill="none"/>
<path d="M179.00 480.39V493.02M177.00 480.39h4.0M177.00 493.02h4.0" stroke="#d86670" stroke-width="1.0" fill="none"/>
<path d="M186.80 480.86V493.16M184.80 480.86h4.0M184.80 493.16h4.0" stroke="#d86670" stroke-width="1.0" fill="none"/>
<path d="M194.60 493.61V507.21M192.60 493.61h4.0M192.60 507.21h4.0" stroke="#d86670" stroke-width="1.0" fill="none"/>
<path d="M38.60 498.66V502.17M36.60 498.66h4.0M36.60 502.17h4.0" stroke="#52a87a" stroke-width="1.0" fill="none"/>
<path d="M46.40 499.39V502.90M44.40 499.39h4.0M44.40 502.90h4.0" stroke="#52a87a" stroke-width="1.0" fill="none"/>
<path d="M54.20 499.39V502.90M52.20 499.39h4.0M52.20 502.90h4.0" stroke="#52a87a" stroke-width="1.0" fill="none"/>
<path d="M62.00 498.66V502.17M60.00 498.66h4.0M60.00 502.17h4.0" stroke="#52a87a" stroke-width="1.0" fill="none"/>
<path d="M69.80 497.93V501.44M67.80 497.93h4.0M67.80 501.44h4.0" stroke="#52a87a" stroke-width="1.0" fill="none"/>
<path d="M77.60 526.74V535.51M75.60 526.74h4.0M75.60 535.51h4.0" stroke="#52a87a" stroke-width="1.0" fill="none"/>
<path d="M85.40 479.18V495.32M83.40 479.18h4.0M83.40 495.32h4.0" stroke="#52a87a" stroke-width="1.0" fill="none"/>
<path d="M93.20 478.35V492.77M91.20 478.35h4.0M91.20 492.77h4.0" stroke="#52a87a" stroke-width="1.0" fill="none"/>
<path d="M101.00 478.55V491.81M99.00 478.55h4.0M99.00 491.81h4.0" stroke="#52a87a" stroke-width="1.0" fill="none"/>
<path d="M108.80 479.35V493.28M106.80 479.35h4.0M106.80 493.28h4.0" stroke="#52a87a" stroke-width="1.0" fill="none"/>
<path d="M116.60 477.85V492.17M114.60 477.85h4.0M114.60 492.17h4.0" stroke="#52a87a" stroke-width="1.0" fill="none"/>
<path d="M124.40 478.69V488.91M122.40 478.69h4.0M122.40 488.91h4.0" stroke="#52a87a" stroke-width="1.0" fill="none"/>
<path d="M132.20 477.83V493.63M130.20 477.83h4.0M130.20 493.63h4.0" stroke="#52a87a" stroke-width="1.0" fill="none"/>
<path d="M140.00 476.63V491.63M138.00 476.63h4.0M138.00 491.63h4.0" stroke="#52a87a" stroke-width="1.0" fill="none"/>
<path d="M147.80 477.18V492.80M145.80 477.18h4.0M145.80 492.80h4.0" stroke="#52a87a" stroke-width="1.0" fill="none"/>
<path d="M155.60 477.24V492.36M153.60 477.24h4.0M153.60 492.36h4.0" stroke="#52a87a" stroke-width="1.0" fill="none"/>
<path d="M163.40 478.96V491.41M161.40 478.96h4.0M161.40 491.41h4.0" stroke="#52a87a" stroke-width="1.0" fill="none"/>
<path d="M171.20 480.10V492.59M169.20 480.10h4.0M169.20 492.59h4.0" stroke="#52a87a" stroke-width="1.0" fill="none"/>
<path d="M179.00 479.25V489.80M177.00 479.25h4.0M177.00 489.80h4.0" stroke="#52a87a" stroke-width="1.0" fill="none"/>
<path d="M186.80 479.77V493.82M184.80 479.77h4.0M184.80 493.82h4.0" stroke="#52a87a" stroke-width="1.0" fill="none"/>
<path d="M194.60 490.88V501.17M192.60 490.88h4.0M192.60 501.17h4.0" stroke="#52a87a" stroke-width="1.0" fill="none"/>
<path d="M38.60 499.68V502.61M36.60 499.68h4.0M36.60 502.61h4.0" stroke="#46708a" stroke-width="1.0" fill="none"/>
<path d="M46.40 499.68V502.61M44.40 499.68h4.0M44.40 502.61h4.0" stroke="#46708a" stroke-width="1.0" fill="none"/>
<path d="M54.20 499.68V502.61M52.20 499.68h4.0M52.20 502.61h4.0" stroke="#46708a" stroke-width="1.0" fill="none"/>
<path d="M62.00 499.68V502.61M60.00 499.68h4.0M60.00 502.61h4.0" stroke="#46708a" stroke-width="1.0" fill="none"/>
<path d="M69.80 498.95V501.88M67.80 498.95h4.0M67.80 501.88h4.0" stroke="#46708a" stroke-width="1.0" fill="none"/>
<path d="M77.60 526.74V532.59M75.60 526.74h4.0M75.60 532.59h4.0" stroke="#46708a" stroke-width="1.0" fill="none"/>
<path d="M85.40 492.90V502.07M83.40 492.90h4.0M83.40 502.07h4.0" stroke="#46708a" stroke-width="1.0" fill="none"/>
<path d="M93.20 483.20V493.19M91.20 483.20h4.0M91.20 493.19h4.0" stroke="#46708a" stroke-width="1.0" fill="none"/>
<path d="M101.00 481.71V491.44M99.00 481.71h4.0M99.00 491.44h4.0" stroke="#46708a" stroke-width="1.0" fill="none"/>
<path d="M108.80 482.78V493.55M106.80 482.78h4.0M106.80 493.55h4.0" stroke="#46708a" stroke-width="1.0" fill="none"/>
<path d="M116.60 482.01V491.09M114.60 482.01h4.0M114.60 491.09h4.0" stroke="#46708a" stroke-width="1.0" fill="none"/>
<path d="M124.40 484.07V492.85M122.40 484.07h4.0M122.40 492.85h4.0" stroke="#46708a" stroke-width="1.0" fill="none"/>
<path d="M132.20 481.98V491.64M130.20 481.98h4.0M130.20 491.64h4.0" stroke="#46708a" stroke-width="1.0" fill="none"/>
<path d="M140.00 481.87V491.24M138.00 481.87h4.0M138.00 491.24h4.0" stroke="#46708a" stroke-width="1.0" fill="none"/>
<path d="M147.80 481.61V492.51M145.80 481.61h4.0M145.80 492.51h4.0" stroke="#46708a" stroke-width="1.0" fill="none"/>
<path d="M155.60 481.80V490.72M153.60 481.80h4.0M153.60 490.72h4.0" stroke="#46708a" stroke-width="1.0" fill="none"/>
<path d="M163.40 480.80V494.69M161.40 480.80h4.0M161.40 494.69h4.0" stroke="#46708a" stroke-width="1.0" fill="none"/>
<path d="M171.20 480.55V492.92M169.20 480.55h4.0M169.20 492.92h4.0" stroke="#46708a" stroke-width="1.0" fill="none"/>
<path d="M179.00 482.18V491.82M177.00 482.18h4.0M177.00 491.82h4.0" stroke="#46708a" stroke-width="1.0" fill="none"/>
<path d="M186.80 481.91V492.17M184.80 481.91h4.0M184.80 492.17h4.0" stroke="#46708a" stroke-width="1.0" fill="none"/>
<path d="M194.60 489.16V499.97M192.60 489.16h4.0M192.60 499.97h4.0" stroke="#46708a" stroke-width="1.0" fill="none"/>
<polyline points="38.60,501.88 46.40,501.88 54.20,501.88 62.00,501.14 69.80,500.41 77.60,525.27 85.40,506.26 93.20,493.56 101.00,489.63 108.80,486.85 116.60,487.64 124.40,485.69 132.20,486.14 140.00,486.95 147.80,485.77 155.60,487.01 163.40,485.96 171.20,486.92 179.00,486.86 186.80,485.99 194.60,493.10" fill="none" stroke="#cfcfcf" stroke-width="1.15" stroke-linejoin="round"/>
<polyline points="38.60,501.88 46.40,501.88 54.20,501.14 62.00,501.14 69.80,500.41 77.60,526.74 85.40,494.56 93.20,487.85 101.00,487.51 108.80,486.52 116.60,484.72 124.40,483.15 132.20,483.39 140.00,484.60 147.80,483.80 155.60,486.25 163.40,484.84 171.20,486.34 179.00,486.72 186.80,486.79 194.60,497.49" fill="none" stroke="#8eaad6" stroke-width="1.15" stroke-linejoin="round"/>
<polyline points="38.60,502.90 46.40,502.61 54.20,501.88 62.00,501.88 69.80,500.41 77.60,528.20 85.40,490.18 93.20,486.29 101.00,484.22 108.80,486.63 116.60,485.57 124.40,485.42 132.20,485.39 140.00,485.66 147.80,486.94 155.60,486.95 163.40,487.29 171.20,486.04 179.00,486.71 186.80,487.01 194.60,500.41" fill="none" stroke="#d0202e" stroke-width="1.15" stroke-linejoin="round"/>
<polyline points="38.60,500.41 46.40,501.14 54.20,501.14 62.00,500.41 69.80,499.68 77.60,531.12 85.40,487.25 93.20,485.56 101.00,485.18 108.80,486.31 116.60,485.01 124.40,483.80 132.20,485.73 140.00,484.13 147.80,484.99 155.60,484.80 163.40,485.18 171.20,486.35 179.00,484.52 186.80,486.79 194.60,496.02" fill="none" stroke="#2e9a5c" stroke-width="1.15" stroke-linejoin="round"/>
<polyline points="38.60,501.14 46.40,501.14 54.20,501.14 62.00,501.14 69.80,500.41 77.60,529.66 85.40,497.49 93.20,488.20 101.00,486.57 108.80,488.17 116.60,486.55 124.40,488.46 132.20,486.81 140.00,486.55 147.80,487.06 155.60,486.26 163.40,487.74 171.20,486.74 179.00,487.00 186.80,487.04 194.60,494.56" fill="none" stroke="#1d5676" stroke-width="1.15" stroke-linejoin="round"/>
</g>
<line x1="38.50" y1="429.50" x2="38.50" y2="521.20" stroke="#2a2a2a" stroke-width="1.5" />
<line x1="34.30" y1="516.50" x2="38.50" y2="516.50" stroke="#2a2a2a" stroke-width="1.3" />
<text x="0" y="0" transform="translate(33.60 519.89) scale(1 1.13)" font-size="8.4" text-anchor="end" font-weight="bold" fill="#111" >20</text>
<line x1="34.30" y1="487.25" x2="38.50" y2="487.25" stroke="#2a2a2a" stroke-width="1.3" />
<text x="0" y="0" transform="translate(33.60 490.64) scale(1 1.13)" font-size="8.4" text-anchor="end" font-weight="bold" fill="#111" >40</text>
<line x1="34.30" y1="458.00" x2="38.50" y2="458.00" stroke="#2a2a2a" stroke-width="1.3" />
<text x="0" y="0" transform="translate(33.60 461.39) scale(1 1.13)" font-size="8.4" text-anchor="end" font-weight="bold" fill="#111" >60</text>
<line x1="34.30" y1="428.75" x2="38.50" y2="428.75" stroke="#2a2a2a" stroke-width="1.3" />
<text x="0" y="0" transform="translate(33.60 432.14) scale(1 1.13)" font-size="8.4" text-anchor="end" font-weight="bold" fill="#111" >80</text>
<line x1="35.80" y1="545.75" x2="38.50" y2="545.75" stroke="#2a2a2a" stroke-width="1.3" />
<line x1="38.50" y1="543.00" x2="38.50" y2="548.80" stroke="#2a2a2a" stroke-width="1.4" />
<text x="0" y="0" transform="translate(34.00 549.48) scale(1 1.13)" font-size="8.4" text-anchor="end" font-weight="bold" fill="#111" >0</text>
<line x1="38.00" y1="545.75" x2="214.40" y2="545.75" stroke="#2a2a2a" stroke-width="1.6" />
<line x1="77.60" y1="545.75" x2="77.60" y2="548.80" stroke="#2a2a2a" stroke-width="1.3" />
<line x1="116.60" y1="545.75" x2="116.60" y2="548.80" stroke="#2a2a2a" stroke-width="1.3" />
<line x1="155.60" y1="545.75" x2="155.60" y2="548.80" stroke="#2a2a2a" stroke-width="1.3" />
<line x1="194.60" y1="545.75" x2="194.60" y2="548.80" stroke="#2a2a2a" stroke-width="1.3" />
<text x="0" y="0" transform="translate(38.60 557.50) scale(1 1.12)" font-size="8.2" text-anchor="middle" font-weight="bold" fill="#111" >0</text>
<text x="0" y="0" transform="translate(77.60 557.50) scale(1 1.12)" font-size="8.2" text-anchor="middle" font-weight="bold" fill="#111" >20</text>
<text x="0" y="0" transform="translate(116.60 557.50) scale(1 1.12)" font-size="8.2" text-anchor="middle" font-weight="bold" fill="#111" >40</text>
<text x="0" y="0" transform="translate(155.60 557.50) scale(1 1.12)" font-size="8.2" text-anchor="middle" font-weight="bold" fill="#111" >60</text>
<text x="0" y="0" transform="translate(194.60 557.50) scale(1 1.12)" font-size="8.2" text-anchor="middle" font-weight="bold" fill="#111" >80</text>
<text x="99.00" y="574.60" font-size="11.5" text-anchor="start" font-weight="bold" fill="#111" >time [sec]</text>
<rect x="49.25" y="392.5" width="37.8" height="22.7" fill="#fff" stroke="#1a1a1a" stroke-width="1.3"/>
<text x="68.00" y="407.80" font-size="11" text-anchor="middle" font-weight="bold" fill="#111" >IL-8</text>
<path d="M72.9 415.8V436.3M68.2 429.4L72.9 436.3L77.6 429.4" stroke="#1a1a1a" stroke-width="1.3" fill="none"/>
<line x1="203.80" y1="465.80" x2="203.80" y2="498.20" stroke="#222" stroke-width="1.6" />
<text x="207.70" y="490.80" font-size="15.2" text-anchor="start" font-weight="bold" fill="#111" >#</text>
<path d="M252.00 501.14V503.92M250.00 501.14h4.0M250.00 503.92h4.0" stroke="#141414" stroke-width="1.1" fill="none"/>
<path d="M259.58 501.14V503.92M257.58 501.14h4.0M257.58 503.92h4.0" stroke="#141414" stroke-width="1.1" fill="none"/>
<path d="M267.16 500.44V503.23M265.16 500.44h4.0M265.16 503.23h4.0" stroke="#141414" stroke-width="1.1" fill="none"/>
<path d="M274.75 501.14V503.92M272.75 501.14h4.0M272.75 503.92h4.0" stroke="#141414" stroke-width="1.1" fill="none"/>
<path d="M282.33 496.82V499.60M280.33 496.82h4.0M280.33 499.60h4.0" stroke="#141414" stroke-width="1.1" fill="none"/>
<path d="M289.91 516.45V520.63M287.91 516.45h4.0M287.91 520.63h4.0" stroke="#141414" stroke-width="1.1" fill="none"/>
<path d="M297.49 469.67V475.79M295.49 469.67h4.0M295.49 475.79h4.0" stroke="#141414" stroke-width="1.1" fill="none"/>
<path d="M305.07 452.40V458.53M303.07 452.40h4.0M303.07 458.53h4.0" stroke="#141414" stroke-width="1.1" fill="none"/>
<path d="M312.66 447.80V453.93M310.66 447.80h4.0M310.66 453.93h4.0" stroke="#141414" stroke-width="1.1" fill="none"/>
<path d="M320.24 445.85V451.98M318.24 445.85h4.0M318.24 451.98h4.0" stroke="#141414" stroke-width="1.1" fill="none"/>
<path d="M327.82 434.99V441.12M325.82 434.99h4.0M325.82 441.12h4.0" stroke="#141414" stroke-width="1.1" fill="none"/>
<path d="M335.40 438.06V444.18M333.40 438.06h4.0M333.40 444.18h4.0" stroke="#141414" stroke-width="1.1" fill="none"/>
<path d="M342.98 438.06V444.18M340.98 438.06h4.0M340.98 444.18h4.0" stroke="#141414" stroke-width="1.1" fill="none"/>
<path d="M350.57 441.68V447.80M348.57 441.68h4.0M348.57 447.80h4.0" stroke="#141414" stroke-width="1.1" fill="none"/>
<path d="M358.15 441.26V447.39M356.15 441.26h4.0M356.15 447.39h4.0" stroke="#141414" stroke-width="1.1" fill="none"/>
<path d="M365.73 440.42V446.55M363.73 440.42h4.0M363.73 446.55h4.0" stroke="#141414" stroke-width="1.1" fill="none"/>
<path d="M373.31 445.44V451.56M371.31 445.44h4.0M371.31 451.56h4.0" stroke="#141414" stroke-width="1.1" fill="none"/>
<path d="M380.89 446.97V453.10M378.89 446.97h4.0M378.89 453.10h4.0" stroke="#141414" stroke-width="1.1" fill="none"/>
<path d="M388.48 447.94V454.07M386.48 447.94h4.0M386.48 454.07h4.0" stroke="#141414" stroke-width="1.1" fill="none"/>
<path d="M396.06 450.03V456.16M394.06 450.03h4.0M394.06 456.16h4.0" stroke="#141414" stroke-width="1.1" fill="none"/>
<path d="M403.64 450.73V456.85M401.64 450.73h4.0M401.64 456.85h4.0" stroke="#141414" stroke-width="1.1" fill="none"/>
<polyline points="252.00,502.53 259.58,502.53 267.16,501.83 274.75,502.53 282.33,498.21 289.91,518.54 297.49,472.73 305.07,455.46 312.66,450.87 320.24,448.92 327.82,438.06 335.40,441.12 342.98,441.12 350.57,444.74 358.15,444.32 365.73,443.49 373.31,448.50 380.89,450.03 388.48,451.01 396.06,453.10 403.64,453.79" fill="none" stroke="#141414" stroke-width="1.15" stroke-linejoin="round"/>
<circle cx="252.00" cy="502.53" r="1.25" fill="#141414"/>
<circle cx="259.58" cy="502.53" r="1.25" fill="#141414"/>
<circle cx="267.16" cy="501.83" r="1.25" fill="#141414"/>
<circle cx="274.75" cy="502.53" r="1.25" fill="#141414"/>
<circle cx="282.33" cy="498.21" r="1.25" fill="#141414"/>
<circle cx="289.91" cy="518.54" r="1.25" fill="#141414"/>
<circle cx="297.49" cy="472.73" r="1.25" fill="#141414"/>
<circle cx="305.07" cy="455.46" r="1.25" fill="#141414"/>
<circle cx="312.66" cy="450.87" r="1.25" fill="#141414"/>
<circle cx="320.24" cy="448.92" r="1.25" fill="#141414"/>
<circle cx="327.82" cy="438.06" r="1.25" fill="#141414"/>
<circle cx="335.40" cy="441.12" r="1.25" fill="#141414"/>
<circle cx="342.98" cy="441.12" r="1.25" fill="#141414"/>
<circle cx="350.57" cy="444.74" r="1.25" fill="#141414"/>
<circle cx="358.15" cy="444.32" r="1.25" fill="#141414"/>
<circle cx="365.73" cy="443.49" r="1.25" fill="#141414"/>
<circle cx="373.31" cy="448.50" r="1.25" fill="#141414"/>
<circle cx="380.89" cy="450.03" r="1.25" fill="#141414"/>
<circle cx="388.48" cy="451.01" r="1.25" fill="#141414"/>
<circle cx="396.06" cy="453.10" r="1.25" fill="#141414"/>
<circle cx="403.64" cy="453.79" r="1.25" fill="#141414"/>
<path d="M252.00 500.16V503.50M250.00 500.16h4.0M250.00 503.50h4.0" stroke="#b8b8b8" stroke-width="1.0" fill="none"/>
<path d="M259.58 500.16V503.50M257.58 500.16h4.0M257.58 503.50h4.0" stroke="#b8b8b8" stroke-width="1.0" fill="none"/>
<path d="M267.16 499.47V502.81M265.16 499.47h4.0M265.16 502.81h4.0" stroke="#b8b8b8" stroke-width="1.0" fill="none"/>
<path d="M274.75 500.16V503.50M272.75 500.16h4.0M272.75 503.50h4.0" stroke="#b8b8b8" stroke-width="1.0" fill="none"/>
<path d="M282.33 499.47V502.81M280.33 499.47h4.0M280.33 502.81h4.0" stroke="#b8b8b8" stroke-width="1.0" fill="none"/>
<path d="M289.91 512.97V535.25M287.91 512.97h4.0M287.91 535.25h4.0" stroke="#b8b8b8" stroke-width="1.0" fill="none"/>
<path d="M297.49 491.44V501.08M295.49 491.44h4.0M295.49 501.08h4.0" stroke="#b8b8b8" stroke-width="1.0" fill="none"/>
<path d="M305.07 489.03V497.21M303.07 489.03h4.0M303.07 497.21h4.0" stroke="#b8b8b8" stroke-width="1.0" fill="none"/>
<path d="M312.66 486.76V497.91M310.66 486.76h4.0M310.66 497.91h4.0" stroke="#b8b8b8" stroke-width="1.0" fill="none"/>
<path d="M320.24 484.66V493.59M318.24 484.66h4.0M318.24 493.59h4.0" stroke="#b8b8b8" stroke-width="1.0" fill="none"/>
<path d="M327.82 482.46V493.67M325.82 482.46h4.0M325.82 493.67h4.0" stroke="#b8b8b8" stroke-width="1.0" fill="none"/>
<path d="M335.40 483.36V495.41M333.40 483.36h4.0M333.40 495.41h4.0" stroke="#b8b8b8" stroke-width="1.0" fill="none"/>
<path d="M342.98 484.02V493.26M340.98 484.02h4.0M340.98 493.26h4.0" stroke="#b8b8b8" stroke-width="1.0" fill="none"/>
<path d="M350.57 484.31V493.58M348.57 484.31h4.0M348.57 493.58h4.0" stroke="#b8b8b8" stroke-width="1.0" fill="none"/>
<path d="M358.15 482.94V494.87M356.15 482.94h4.0M356.15 494.87h4.0" stroke="#b8b8b8" stroke-width="1.0" fill="none"/>
<path d="M365.73 482.88V493.72M363.73 482.88h4.0M363.73 493.72h4.0" stroke="#b8b8b8" stroke-width="1.0" fill="none"/>
<path d="M373.31 484.43V492.57M371.31 484.43h4.0M371.31 492.57h4.0" stroke="#b8b8b8" stroke-width="1.0" fill="none"/>
<path d="M380.89 483.12V491.05M378.89 483.12h4.0M378.89 491.05h4.0" stroke="#b8b8b8" stroke-width="1.0" fill="none"/>
<path d="M388.48 484.73V492.78M386.48 484.73h4.0M386.48 492.78h4.0" stroke="#b8b8b8" stroke-width="1.0" fill="none"/>
<path d="M396.06 483.24V494.96M394.06 483.24h4.0M394.06 494.96h4.0" stroke="#b8b8b8" stroke-width="1.0" fill="none"/>
<path d="M403.64 482.29V493.53M401.64 482.29h4.0M401.64 493.53h4.0" stroke="#b8b8b8" stroke-width="1.0" fill="none"/>
<path d="M252.00 500.16V503.50M250.00 500.16h4.0M250.00 503.50h4.0" stroke="#9cb4da" stroke-width="1.0" fill="none"/>
<path d="M259.58 500.86V504.20M257.58 500.86h4.0M257.58 504.20h4.0" stroke="#9cb4da" stroke-width="1.0" fill="none"/>
<path d="M267.16 500.16V503.50M265.16 500.16h4.0M265.16 503.50h4.0" stroke="#9cb4da" stroke-width="1.0" fill="none"/>
<path d="M274.75 500.16V503.50M272.75 500.16h4.0M272.75 503.50h4.0" stroke="#9cb4da" stroke-width="1.0" fill="none"/>
<path d="M282.33 499.47V502.81M280.33 499.47h4.0M280.33 502.81h4.0" stroke="#9cb4da" stroke-width="1.0" fill="none"/>
<path d="M289.91 512.97V529.68M287.91 512.97h4.0M287.91 529.68h4.0" stroke="#9cb4da" stroke-width="1.0" fill="none"/>
<path d="M297.49 488.32V498.64M295.49 488.32h4.0M295.49 498.64h4.0" stroke="#9cb4da" stroke-width="1.0" fill="none"/>
<path d="M305.07 483.67V498.24M303.07 483.67h4.0M303.07 498.24h4.0" stroke="#9cb4da" stroke-width="1.0" fill="none"/>
<path d="M312.66 482.85V498.39M310.66 482.85h4.0M310.66 498.39h4.0" stroke="#9cb4da" stroke-width="1.0" fill="none"/>
<path d="M320.24 483.43V496.94M318.24 483.43h4.0M318.24 496.94h4.0" stroke="#9cb4da" stroke-width="1.0" fill="none"/>
<path d="M327.82 482.70V494.29M325.82 482.70h4.0M325.82 494.29h4.0" stroke="#9cb4da" stroke-width="1.0" fill="none"/>
<path d="M335.40 482.67V495.51M333.40 482.67h4.0M333.40 495.51h4.0" stroke="#9cb4da" stroke-width="1.0" fill="none"/>
<path d="M342.98 482.03V492.25M340.98 482.03h4.0M340.98 492.25h4.0" stroke="#9cb4da" stroke-width="1.0" fill="none"/>
<path d="M350.57 480.57V490.06M348.57 480.57h4.0M348.57 490.06h4.0" stroke="#9cb4da" stroke-width="1.0" fill="none"/>
<path d="M358.15 477.86V493.35M356.15 477.86h4.0M356.15 493.35h4.0" stroke="#9cb4da" stroke-width="1.0" fill="none"/>
<path d="M365.73 479.98V493.45M363.73 479.98h4.0M363.73 493.45h4.0" stroke="#9cb4da" stroke-width="1.0" fill="none"/>
<path d="M373.31 480.76V493.46M371.31 480.76h4.0M371.31 493.46h4.0" stroke="#9cb4da" stroke-width="1.0" fill="none"/>
<path d="M380.89 479.22V494.47M378.89 479.22h4.0M378.89 494.47h4.0" stroke="#9cb4da" stroke-width="1.0" fill="none"/>
<path d="M388.48 481.29V493.41M386.48 481.29h4.0M386.48 493.41h4.0" stroke="#9cb4da" stroke-width="1.0" fill="none"/>
<path d="M396.06 478.40V493.26M394.06 478.40h4.0M394.06 493.26h4.0" stroke="#9cb4da" stroke-width="1.0" fill="none"/>
<path d="M403.64 479.23V493.80M401.64 479.23h4.0M401.64 493.80h4.0" stroke="#9cb4da" stroke-width="1.0" fill="none"/>
<path d="M252.00 502.53V506.71M250.00 502.53h4.0M250.00 506.71h4.0" stroke="#d86670" stroke-width="1.0" fill="none"/>
<path d="M259.58 503.23V507.40M257.58 503.23h4.0M257.58 507.40h4.0" stroke="#d86670" stroke-width="1.0" fill="none"/>
<path d="M267.16 501.83V506.01M265.16 501.83h4.0M265.16 506.01h4.0" stroke="#d86670" stroke-width="1.0" fill="none"/>
<path d="M274.75 501.83V506.01M272.75 501.83h4.0M272.75 506.01h4.0" stroke="#d86670" stroke-width="1.0" fill="none"/>
<path d="M282.33 500.58V504.76M280.33 500.58h4.0M280.33 504.76h4.0" stroke="#d86670" stroke-width="1.0" fill="none"/>
<path d="M289.91 515.76V524.11M287.91 515.76h4.0M287.91 524.11h4.0" stroke="#d86670" stroke-width="1.0" fill="none"/>
<path d="M297.49 488.32V501.42M295.49 488.32h4.0M295.49 501.42h4.0" stroke="#d86670" stroke-width="1.0" fill="none"/>
<path d="M305.07 486.69V500.10M303.07 486.69h4.0M303.07 500.10h4.0" stroke="#d86670" stroke-width="1.0" fill="none"/>
<path d="M312.66 483.82V497.56M310.66 483.82h4.0M310.66 497.56h4.0" stroke="#d86670" stroke-width="1.0" fill="none"/>
<path d="M320.24 483.06V496.39M318.24 483.06h4.0M318.24 496.39h4.0" stroke="#d86670" stroke-width="1.0" fill="none"/>
<path d="M327.82 479.22V495.20M325.82 479.22h4.0M325.82 495.20h4.0" stroke="#d86670" stroke-width="1.0" fill="none"/>
<path d="M335.40 476.21V489.69M333.40 476.21h4.0M333.40 489.69h4.0" stroke="#d86670" stroke-width="1.0" fill="none"/>
<path d="M342.98 473.08V487.77M340.98 473.08h4.0M340.98 487.77h4.0" stroke="#d86670" stroke-width="1.0" fill="none"/>
<path d="M350.57 473.82V486.31M348.57 473.82h4.0M348.57 486.31h4.0" stroke="#d86670" stroke-width="1.0" fill="none"/>
<path d="M358.15 470.95V489.41M356.15 470.95h4.0M356.15 489.41h4.0" stroke="#d86670" stroke-width="1.0" fill="none"/>
<path d="M365.73 473.05V487.25M363.73 473.05h4.0M363.73 487.25h4.0" stroke="#d86670" stroke-width="1.0" fill="none"/>
<path d="M373.31 472.85V487.84M371.31 472.85h4.0M371.31 487.84h4.0" stroke="#d86670" stroke-width="1.0" fill="none"/>
<path d="M380.89 473.65V489.61M378.89 473.65h4.0M378.89 489.61h4.0" stroke="#d86670" stroke-width="1.0" fill="none"/>
<path d="M388.48 472.39V490.80M386.48 472.39h4.0M386.48 490.80h4.0" stroke="#d86670" stroke-width="1.0" fill="none"/>
<path d="M396.06 475.34V490.05M394.06 475.34h4.0M394.06 490.05h4.0" stroke="#d86670" stroke-width="1.0" fill="none"/>
<path d="M403.64 473.78V492.29M401.64 473.78h4.0M401.64 492.29h4.0" stroke="#d86670" stroke-width="1.0" fill="none"/>
<path d="M252.00 500.86V504.20M250.00 500.86h4.0M250.00 504.20h4.0" stroke="#52a87a" stroke-width="1.0" fill="none"/>
<path d="M259.58 500.86V504.20M257.58 500.86h4.0M257.58 504.20h4.0" stroke="#52a87a" stroke-width="1.0" fill="none"/>
<path d="M267.16 500.16V503.50M265.16 500.16h4.0M265.16 503.50h4.0" stroke="#52a87a" stroke-width="1.0" fill="none"/>
<path d="M274.75 500.86V504.20M272.75 500.86h4.0M272.75 504.20h4.0" stroke="#52a87a" stroke-width="1.0" fill="none"/>
<path d="M282.33 500.16V503.50M280.33 500.16h4.0M280.33 503.50h4.0" stroke="#52a87a" stroke-width="1.0" fill="none"/>
<path d="M289.91 514.37V522.72M287.91 514.37h4.0M287.91 522.72h4.0" stroke="#52a87a" stroke-width="1.0" fill="none"/>
<path d="M297.49 480.24V501.14M295.49 480.24h4.0M295.49 501.14h4.0" stroke="#52a87a" stroke-width="1.0" fill="none"/>
<path d="M305.07 480.57V501.79M303.07 480.57h4.0M303.07 501.79h4.0" stroke="#52a87a" stroke-width="1.0" fill="none"/>
<path d="M312.66 479.92V501.05M310.66 479.92h4.0M310.66 501.05h4.0" stroke="#52a87a" stroke-width="1.0" fill="none"/>
<path d="M320.24 475.93V491.80M318.24 475.93h4.0M318.24 491.80h4.0" stroke="#52a87a" stroke-width="1.0" fill="none"/>
<path d="M327.82 473.51V493.77M325.82 473.51h4.0M325.82 493.77h4.0" stroke="#52a87a" stroke-width="1.0" fill="none"/>
<path d="M335.40 470.28V487.86M333.40 470.28h4.0M333.40 487.86h4.0" stroke="#52a87a" stroke-width="1.0" fill="none"/>
<path d="M342.98 467.63V483.34M340.98 467.63h4.0M340.98 483.34h4.0" stroke="#52a87a" stroke-width="1.0" fill="none"/>
<path d="M350.57 464.06V488.07M348.57 464.06h4.0M348.57 488.07h4.0" stroke="#52a87a" stroke-width="1.0" fill="none"/>
<path d="M358.15 470.00V487.47M356.15 470.00h4.0M356.15 487.47h4.0" stroke="#52a87a" stroke-width="1.0" fill="none"/>
<path d="M365.73 468.30V488.91M363.73 468.30h4.0M363.73 488.91h4.0" stroke="#52a87a" stroke-width="1.0" fill="none"/>
<path d="M373.31 467.07V490.31M371.31 467.07h4.0M371.31 490.31h4.0" stroke="#52a87a" stroke-width="1.0" fill="none"/>
<path d="M380.89 467.48V488.96M378.89 467.48h4.0M378.89 488.96h4.0" stroke="#52a87a" stroke-width="1.0" fill="none"/>
<path d="M388.48 474.06V493.13M386.48 474.06h4.0M386.48 493.13h4.0" stroke="#52a87a" stroke-width="1.0" fill="none"/>
<path d="M396.06 467.47V488.55M394.06 467.47h4.0M394.06 488.55h4.0" stroke="#52a87a" stroke-width="1.0" fill="none"/>
<path d="M403.64 467.57V489.03M401.64 467.57h4.0M401.64 489.03h4.0" stroke="#52a87a" stroke-width="1.0" fill="none"/>
<path d="M252.00 501.14V503.92M250.00 501.14h4.0M250.00 503.92h4.0" stroke="#46708a" stroke-width="1.0" fill="none"/>
<path d="M259.58 501.83V504.62M257.58 501.83h4.0M257.58 504.62h4.0" stroke="#46708a" stroke-width="1.0" fill="none"/>
<path d="M267.16 501.14V503.92M265.16 501.14h4.0M265.16 503.92h4.0" stroke="#46708a" stroke-width="1.0" fill="none"/>
<path d="M274.75 501.14V503.92M272.75 501.14h4.0M272.75 503.92h4.0" stroke="#46708a" stroke-width="1.0" fill="none"/>
<path d="M282.33 500.44V503.23M280.33 500.44h4.0M280.33 503.23h4.0" stroke="#46708a" stroke-width="1.0" fill="none"/>
<path d="M289.91 514.37V522.72M287.91 514.37h4.0M287.91 522.72h4.0" stroke="#46708a" stroke-width="1.0" fill="none"/>
<path d="M297.49 488.01V497.55M295.49 488.01h4.0M295.49 497.55h4.0" stroke="#46708a" stroke-width="1.0" fill="none"/>
<path d="M305.07 489.49V496.20M303.07 489.49h4.0M303.07 496.20h4.0" stroke="#46708a" stroke-width="1.0" fill="none"/>
<path d="M312.66 487.13V495.74M310.66 487.13h4.0M310.66 495.74h4.0" stroke="#46708a" stroke-width="1.0" fill="none"/>
<path d="M320.24 486.03V493.34M318.24 486.03h4.0M318.24 493.34h4.0" stroke="#46708a" stroke-width="1.0" fill="none"/>
<path d="M327.82 484.59V492.01M325.82 484.59h4.0M325.82 492.01h4.0" stroke="#46708a" stroke-width="1.0" fill="none"/>
<path d="M335.40 483.00V492.50M333.40 483.00h4.0M333.40 492.50h4.0" stroke="#46708a" stroke-width="1.0" fill="none"/>
<path d="M342.98 483.77V492.15M340.98 483.77h4.0M340.98 492.15h4.0" stroke="#46708a" stroke-width="1.0" fill="none"/>
<path d="M350.57 482.52V491.13M348.57 482.52h4.0M348.57 491.13h4.0" stroke="#46708a" stroke-width="1.0" fill="none"/>
<path d="M358.15 482.44V491.88M356.15 482.44h4.0M356.15 491.88h4.0" stroke="#46708a" stroke-width="1.0" fill="none"/>
<path d="M365.73 483.91V493.99M363.73 483.91h4.0M363.73 493.99h4.0" stroke="#46708a" stroke-width="1.0" fill="none"/>
<path d="M373.31 483.45V491.56M371.31 483.45h4.0M371.31 491.56h4.0" stroke="#46708a" stroke-width="1.0" fill="none"/>
<path d="M380.89 482.47V491.29M378.89 482.47h4.0M378.89 491.29h4.0" stroke="#46708a" stroke-width="1.0" fill="none"/>
<path d="M388.48 483.01V491.39M386.48 483.01h4.0M386.48 491.39h4.0" stroke="#46708a" stroke-width="1.0" fill="none"/>
<path d="M396.06 482.38V490.79M394.06 482.38h4.0M394.06 490.79h4.0" stroke="#46708a" stroke-width="1.0" fill="none"/>
<path d="M403.64 482.63V491.79M401.64 482.63h4.0M401.64 491.79h4.0" stroke="#46708a" stroke-width="1.0" fill="none"/>
<polyline points="252.00,501.83 259.58,501.83 267.16,501.14 274.75,501.83 282.33,501.14 289.91,524.11 297.49,496.26 305.07,493.12 312.66,492.33 320.24,489.12 327.82,488.06 335.40,489.39 342.98,488.64 350.57,488.95 358.15,488.90 365.73,488.30 373.31,488.50 380.89,487.08 388.48,488.76 396.06,489.10 403.64,487.91" fill="none" stroke="#cfcfcf" stroke-width="1.15" stroke-linejoin="round"/>
<polyline points="252.00,501.83 259.58,502.53 267.16,501.83 274.75,501.83 282.33,501.14 289.91,521.33 297.49,493.48 305.07,490.95 312.66,490.62 320.24,490.19 327.82,488.50 335.40,489.09 342.98,487.14 350.57,485.32 358.15,485.60 365.73,486.72 373.31,487.11 380.89,486.85 388.48,487.35 396.06,485.83 403.64,486.51" fill="none" stroke="#8eaad6" stroke-width="1.15" stroke-linejoin="round"/>
<polyline points="252.00,504.62 259.58,505.31 267.16,503.92 274.75,503.92 282.33,502.67 289.91,519.93 297.49,494.87 305.07,493.40 312.66,490.69 320.24,489.73 327.82,487.21 335.40,482.95 342.98,480.43 350.57,480.06 358.15,480.18 365.73,480.15 373.31,480.34 380.89,481.63 388.48,481.60 396.06,482.70 403.64,483.03" fill="none" stroke="#d0202e" stroke-width="1.15" stroke-linejoin="round"/>
<polyline points="252.00,502.53 259.58,502.53 267.16,501.83 274.75,502.53 282.33,501.83 289.91,518.54 297.49,490.69 305.07,491.18 312.66,490.48 320.24,483.87 327.82,483.64 335.40,479.07 342.98,475.48 350.57,476.06 358.15,478.74 365.73,478.61 373.31,478.69 380.89,478.22 388.48,483.60 396.06,478.01 403.64,478.30" fill="none" stroke="#2e9a5c" stroke-width="1.15" stroke-linejoin="round"/>
<polyline points="252.00,502.53 259.58,503.23 267.16,502.53 274.75,502.53 282.33,501.83 289.91,518.54 297.49,492.78 305.07,492.85 312.66,491.43 320.24,489.69 327.82,488.30 335.40,487.75 342.98,487.96 350.57,486.83 358.15,487.16 365.73,488.95 373.31,487.50 380.89,486.88 388.48,487.20 396.06,486.58 403.64,487.21" fill="none" stroke="#1d5676" stroke-width="1.15" stroke-linejoin="round"/>
<line x1="252.20" y1="433.50" x2="252.20" y2="545.80" stroke="#2a2a2a" stroke-width="1.5" />
<line x1="248.50" y1="545.00" x2="252.20" y2="545.00" stroke="#2a2a2a" stroke-width="1.3" />
<text x="0" y="0" transform="translate(247.60 548.39) scale(1 1.13)" font-size="8.4" text-anchor="end" font-weight="bold" fill="#111" >0</text>
<line x1="248.50" y1="517.15" x2="252.20" y2="517.15" stroke="#2a2a2a" stroke-width="1.3" />
<text x="0" y="0" transform="translate(247.60 520.54) scale(1 1.13)" font-size="8.4" text-anchor="end" font-weight="bold" fill="#111" >20</text>
<line x1="248.50" y1="489.30" x2="252.20" y2="489.30" stroke="#2a2a2a" stroke-width="1.3" />
<text x="0" y="0" transform="translate(247.60 492.69) scale(1 1.13)" font-size="8.4" text-anchor="end" font-weight="bold" fill="#111" >40</text>
<line x1="248.50" y1="461.45" x2="252.20" y2="461.45" stroke="#2a2a2a" stroke-width="1.3" />
<text x="0" y="0" transform="translate(247.60 464.84) scale(1 1.13)" font-size="8.4" text-anchor="end" font-weight="bold" fill="#111" >60</text>
<line x1="248.50" y1="433.60" x2="252.20" y2="433.60" stroke="#2a2a2a" stroke-width="1.3" />
<text x="0" y="0" transform="translate(247.60 436.99) scale(1 1.13)" font-size="8.4" text-anchor="end" font-weight="bold" fill="#111" >80</text>
<line x1="251.50" y1="545.00" x2="423.30" y2="545.00" stroke="#2a2a2a" stroke-width="1.6" />
<line x1="252.00" y1="545.00" x2="252.00" y2="548.00" stroke="#2a2a2a" stroke-width="1.3" />
<text x="0" y="0" transform="translate(252.00 557.70) scale(1 1.12)" font-size="8.2" text-anchor="middle" font-weight="bold" fill="#111" >0</text>
<line x1="289.91" y1="545.00" x2="289.91" y2="548.00" stroke="#2a2a2a" stroke-width="1.3" />
<text x="0" y="0" transform="translate(289.91 557.70) scale(1 1.12)" font-size="8.2" text-anchor="middle" font-weight="bold" fill="#111" >20</text>
<line x1="327.82" y1="545.00" x2="327.82" y2="548.00" stroke="#2a2a2a" stroke-width="1.3" />
<text x="0" y="0" transform="translate(327.82 557.70) scale(1 1.12)" font-size="8.2" text-anchor="middle" font-weight="bold" fill="#111" >40</text>
<line x1="365.73" y1="545.00" x2="365.73" y2="548.00" stroke="#2a2a2a" stroke-width="1.3" />
<text x="0" y="0" transform="translate(365.73 557.70) scale(1 1.12)" font-size="8.2" text-anchor="middle" font-weight="bold" fill="#111" >60</text>
<line x1="403.64" y1="545.00" x2="403.64" y2="548.00" stroke="#2a2a2a" stroke-width="1.3" />
<text x="0" y="0" transform="translate(403.64 557.70) scale(1 1.12)" font-size="8.2" text-anchor="middle" font-weight="bold" fill="#111" >80</text>
<text x="308.90" y="574.60" font-size="11.5" text-anchor="start" font-weight="bold" fill="#111" >time [sec]</text>
<rect x="272.15" y="394.55" width="44.0" height="22.8" fill="#fff" stroke="#1a1a1a" stroke-width="1.3"/>
<text x="280.80" y="409.90" font-size="11.6" text-anchor="start" font-weight="bold" fill="#111" >LTB<tspan font-size="7.2" dy="2.6">4</tspan></text>
<path d="M288.8 418.0V438.3M284.3 431.1L288.8 438.3L293.4 431.1" stroke="#1a1a1a" stroke-width="1.3" fill="none"/>
<line x1="413.00" y1="454.50" x2="413.00" y2="486.30" stroke="#222" stroke-width="1.6" />
<text x="416.90" y="479.60" font-size="15.2" text-anchor="start" font-weight="bold" fill="#111" >#</text>
<text x="0.15" y="387.60" font-size="17" text-anchor="start" font-weight="bold" fill="#111" >E</text>
<text x="13.40" y="479.70" font-size="12.3" text-anchor="middle" font-weight="bold" fill="#111" transform="rotate(-90 13.40 479.70)" >Ca<tspan font-size="8" dy="2.6">i</tspan><tspan font-size="8" dy="-7.4" dx="-1.6">2+</tspan><tspan dy="4.8"> [nM]</tspan></text>
<line x1="459.10" y1="452.60" x2="475.60" y2="452.60" stroke="#141414" stroke-width="2.3" />
<text x="484.20" y="456.70" font-size="11.3" text-anchor="start" font-weight="normal" fill="#000" stroke="#000" stroke-width="0.1">scr</text>
<line x1="459.10" y1="466.80" x2="475.60" y2="466.80" stroke="#d0202e" stroke-width="2.3" />
<text x="484.20" y="470.90" font-size="11.3" text-anchor="start" font-weight="normal" fill="#000" stroke="#000" stroke-width="0.1">GNB1</text>
<line x1="459.10" y1="480.70" x2="475.60" y2="480.70" stroke="#2e9a5c" stroke-width="2.3" />
<text x="484.20" y="484.80" font-size="11.3" text-anchor="start" font-weight="normal" fill="#000" stroke="#000" stroke-width="0.1">GNB2</text>
<line x1="459.10" y1="494.70" x2="475.60" y2="494.70" stroke="#8eaad6" stroke-width="2.3" />
<text x="484.20" y="498.80" font-size="11.3" text-anchor="start" font-weight="normal" fill="#000" stroke="#000" stroke-width="0.1">GNB4</text>
<line x1="459.10" y1="508.70" x2="475.60" y2="508.70" stroke="#1d5676" stroke-width="2.3" />
<text x="484.20" y="512.80" font-size="11.3" text-anchor="start" font-weight="normal" fill="#000" stroke="#000" stroke-width="0.1">GNB5</text>
<line x1="459.10" y1="522.60" x2="475.60" y2="522.60" stroke="#d0d0d0" stroke-width="2.3" />
<text x="484.20" y="526.70" font-size="11.3" text-anchor="start" font-weight="normal" fill="#000" stroke="#000" stroke-width="0.1">GNAI2</text>
</svg>
</body></html>
